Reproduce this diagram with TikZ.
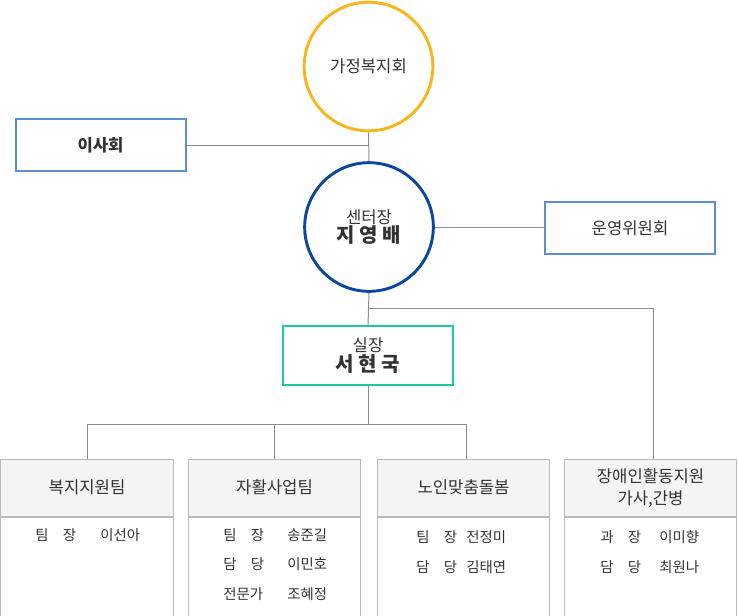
\documentclass[tikz,border=0pt]{standalone}
\usepackage{fontspec}
\setmainfont{Noto Sans CJK KR}
\definecolor{txt}{HTML}{333333}
\definecolor{cyellow}{HTML}{F9B51B}
\definecolor{cnavy}{HTML}{0B479C}
\definecolor{cblue}{HTML}{5C8ED4}
\definecolor{cteal}{HTML}{19C9A6}
\definecolor{cline}{HTML}{8C8C8C}
\definecolor{cbox}{HTML}{BBBBBB}
\definecolor{chead}{HTML}{F4F4F4}
\begin{document}
\begin{tikzpicture}[x=0.75pt,y=-0.75pt,
  every node/.style={text=txt, inner sep=0pt},
  conn/.style={draw=cline, line width=0.75pt},
  bigcircle/.style={circle, line width=2.2pt, minimum size=96.5pt, align=center},
  twoline/.style={align=center, font=\fontsize{12.5}{14.5}\selectfont},
  bluebox/.style={rectangle, draw=cblue, line width=1.5pt, minimum width=127.5pt, minimum height=39pt,
    font=\fontsize{12.5}{14}\selectfont},
  headbox/.style={rectangle, draw=cbox, fill=chead, line width=0.75pt, minimum width=129.5pt, minimum height=43pt,
    align=center, font=\fontsize{12.5}{16.5}\selectfont},
  bodybox/.style={rectangle, draw=cbox, line width=0.75pt, minimum width=129.5pt, minimum height=74.5pt},
  bodytext/.style={anchor=west, font=\fontsize{10.8}{12}\selectfont}
]
\useasboundingbox (0,0) rectangle (738,615);
% top circles
\node[bigcircle, draw=cyellow, font=\fontsize{12.5}{14}\selectfont] (top) at (368.5,66.5) {가정복지회};
\node[bigcircle, draw=cnavy, twoline] (ctr) at (369,227)
  {센터장\\{\fontsize{15}{16}\selectfont\bfseries 지 영 배}};
% side boxes
\node[bluebox, font=\fontsize{12.5}{14}\selectfont\bfseries] (board) at (100.5,145) {이사회};
\node[bluebox] (comm) at (630,228) {운영위원회};
% 실장
\node[rectangle, draw=cteal, line width=1.5pt, minimum width=127.5pt, minimum height=44pt, twoline] (sil) at (368,355.5)
  {실장\\{\fontsize{15}{16}\selectfont\bfseries 서 현 국}};
% team boxes
\node[headbox, anchor=north] (t1) at (87,458.5) {복지지원팀};
\node[headbox, anchor=north] (t2) at (274.5,458.5) {자활사업팀};
\node[headbox, anchor=north] (t3) at (463.5,458.5) {노인맞춤돌봄};
\node[headbox, anchor=north] (t4) at (650.5,458.5) {장애인활동지원\\가사,간병};
\node[bodybox, anchor=north] (b1) at (t1.south) {};
\node[bodybox, anchor=north] (b2) at (t2.south) {};
\node[bodybox, anchor=north] (b3) at (t3.south) {};
\node[bodybox, anchor=north] (b4) at (t4.south) {};
% body texts
\node[bodytext] (r11) at (35,535) {팀\hspace{1em}장};
\node[bodytext] (n11) at (100,535) {이선아};
\node[bodytext] (r21) at (223,535) {팀\hspace{1em}장};
\node[bodytext] (n21) at (287,535) {송준길};
\node[bodytext] (r22) at (223,564.5) {담\hspace{1em}당};
\node[bodytext] (n22) at (287,564.5) {이민호};
\node[bodytext] (r23) at (223,594) {전문가};
\node[bodytext] (n23) at (287,594) {조혜정};
\node[bodytext] (r31) at (416,537) {팀\hspace{1em}장};
\node[bodytext] (n31) at (466,537) {전정미};
\node[bodytext] (r32) at (416,567) {담\hspace{1em}당};
\node[bodytext] (n32) at (466,567) {김태연};
\node[bodytext] (r41) at (600,537) {과\hspace{1em}장};
\node[bodytext] (n41) at (659,537) {이미향};
\node[bodytext] (r42) at (600,567) {담\hspace{1em}당};
\node[bodytext] (n42) at (659,567) {최원나};
% connectors
\coordinate (ya) at (0,308);
\coordinate (yb) at (0,424);
\draw[conn] (top.south) -- (ctr.north);
\draw[conn] (board.east) -- (board.east -| top.south);
\draw[conn] (ctr.east) -- (ctr.east -| comm.west);
\draw[conn] (ctr.south) -- (sil.north);
\draw[conn] (ctr.south |- ya) -| ([xshift=2pt]t4.north);
\draw[conn] (sil.south) -- (sil.south |- yb);
\draw[conn] (t1.north) |- ([xshift=2.6pt]t3.north |- yb) -- ([xshift=2.6pt]t3.north);
\draw[conn] (t2.north) -- (t2.north |- yb);
\end{tikzpicture}
\end{document}
